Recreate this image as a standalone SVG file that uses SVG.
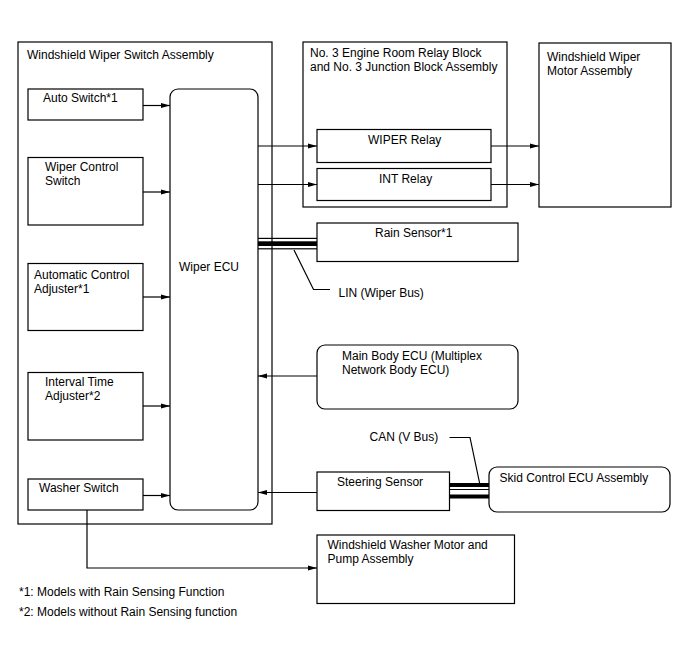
<svg xmlns="http://www.w3.org/2000/svg" width="688" height="658" viewBox="0 0 688 658">
<defs>
<marker id="ah" markerWidth="9" markerHeight="6" refX="9" refY="3" orient="auto" markerUnits="userSpaceOnUse">
<path d="M0,0.5 L9,3 L0,5.5 Z" fill="#000"/>
</marker>
<style>
.b{fill:#fff;stroke:#000;stroke-width:1.2}
.c{fill:none;stroke:#000;stroke-width:1.2}
.t{font-family:"Liberation Sans",Arial,sans-serif;font-size:12px;fill:#000}
</style>
</defs>
<rect width="688" height="658" fill="#fff"/>
<g id="switch-assembly">
<rect class="b" x="18" y="42" width="254" height="482"/>
<text class="t" x="27" y="59">Windshield Wiper Switch Assembly</text>
</g>
<g id="auto-switch">
<rect class="b" x="28" y="89" width="115" height="31"/>
<text class="t" x="43" y="102">Auto Switch*1</text>
</g>
<g id="wiper-control-switch">
<rect class="b" x="28" y="157.5" width="115" height="67.5"/>
<text class="t" x="45" y="171">Wiper Control</text>
<text class="t" x="45" y="185">Switch</text>
</g>
<g id="auto-control-adjuster">
<rect class="b" x="28" y="263.5" width="115" height="67"/>
<text class="t" x="34" y="279">Automatic Control</text>
<text class="t" x="34" y="293">Adjuster*1</text>
</g>
<g id="interval-time-adjuster">
<rect class="b" x="28" y="372.5" width="115" height="67.5"/>
<text class="t" x="45" y="386">Interval Time</text>
<text class="t" x="45" y="400">Adjuster*2</text>
</g>
<g id="washer-switch">
<rect class="b" x="28" y="479" width="115" height="31"/>
<text class="t" x="39" y="492">Washer Switch</text>
</g>
<g id="wiper-ecu">
<rect class="b" x="170" y="89" width="88" height="421" rx="8" ry="8"/>
<text class="t" x="179" y="271">Wiper ECU</text>
</g>
<g id="relay-block">
<rect class="b" x="303" y="42" width="204" height="165"/>
<text class="t" x="310" y="57">No. 3 Engine Room Relay Block</text>
<text class="t" x="310" y="70.5">and No. 3 Junction Block Assembly</text>
</g>
<g id="wiper-relay">
<rect class="b" x="317" y="129.5" width="174" height="33"/>
<text class="t" x="368" y="144">WIPER Relay</text>
</g>
<g id="int-relay">
<rect class="b" x="317" y="168.5" width="174" height="32"/>
<text class="t" x="379" y="182.5">INT Relay</text>
</g>
<g id="wiper-motor">
<rect class="b" x="539" y="43" width="132" height="164"/>
<text class="t" x="547" y="61">Windshield Wiper</text>
<text class="t" x="547" y="75">Motor Assembly</text>
</g>
<g id="rain-sensor">
<rect class="b" x="317" y="223" width="201" height="38.5"/>
<text class="t" x="375" y="236.5">Rain Sensor*1</text>
</g>
<g id="main-body-ecu">
<rect class="b" x="317" y="345" width="201" height="64" rx="8" ry="8"/>
<text class="t" x="342" y="360">Main Body ECU (Multiplex</text>
<text class="t" x="342" y="374">Network Body ECU)</text>
</g>
<g id="steering-sensor">
<rect class="b" x="317" y="472" width="132.5" height="38.5"/>
<text class="t" x="337" y="486">Steering Sensor</text>
</g>
<g id="skid-control-ecu">
<rect class="b" x="489" y="467" width="181" height="45" rx="8" ry="8"/>
<text class="t" x="499.5" y="482">Skid Control ECU Assembly</text>
</g>
<g id="washer-motor">
<rect class="b" x="317" y="535" width="197.5" height="68.5"/>
<text class="t" x="327.5" y="549">Windshield Washer Motor and</text>
<text class="t" x="327.5" y="563">Pump Assembly</text>
</g>
<g id="connectors">
<line class="c" x1="143" y1="105.5" x2="170" y2="105.5" marker-end="url(#ah)"/>
<line class="c" x1="143" y1="192" x2="170" y2="192" marker-end="url(#ah)"/>
<line class="c" x1="143" y1="297" x2="170" y2="297" marker-end="url(#ah)"/>
<line class="c" x1="143" y1="406" x2="170" y2="406" marker-end="url(#ah)"/>
<line class="c" x1="143" y1="495.5" x2="170" y2="495.5" marker-end="url(#ah)"/>
<line class="c" x1="258" y1="146" x2="317" y2="146" marker-end="url(#ah)"/>
<line class="c" x1="258" y1="184.5" x2="317" y2="184.5" marker-end="url(#ah)"/>
<line class="c" x1="491" y1="146" x2="539" y2="146" marker-end="url(#ah)"/>
<line class="c" x1="491" y1="184.5" x2="539" y2="184.5" marker-end="url(#ah)"/>
<line class="c" x1="317" y1="376" x2="258" y2="376" marker-end="url(#ah)"/>
<line class="c" x1="317" y1="492.5" x2="258" y2="492.5" marker-end="url(#ah)"/>
<polyline class="c" points="87,510 87,568 317,568" marker-end="url(#ah)"/>
<g id="lin-bus">
<rect x="258" y="237.8" width="59" height="1.2" fill="#000"/>
<rect x="258" y="241.3" width="59" height="4.7" fill="#000"/>
<rect x="258" y="248.2" width="59" height="1.2" fill="#000"/>
<polyline class="c" points="294,250 313.5,289.5 330,289.5" stroke-width="1"/>
<text class="t" x="338.5" y="297">LIN (Wiper Bus)</text>
</g>
<g id="can-bus">
<rect x="449.5" y="483" width="39.5" height="4" fill="#000"/>
<rect x="449.5" y="489" width="39.5" height="1" fill="#000"/>
<rect x="449.5" y="494.5" width="39.5" height="4" fill="#000"/>
<polyline class="c" points="449.5,437.5 470,437.5 480,485" stroke-width="1"/>
<text class="t" x="369.5" y="441">CAN (V Bus)</text>
</g>
</g>
<text class="t" x="19" y="596">*1: Models with Rain Sensing Function</text>
<text class="t" x="19" y="616">*2: Models without Rain Sensing function</text>
</svg>
